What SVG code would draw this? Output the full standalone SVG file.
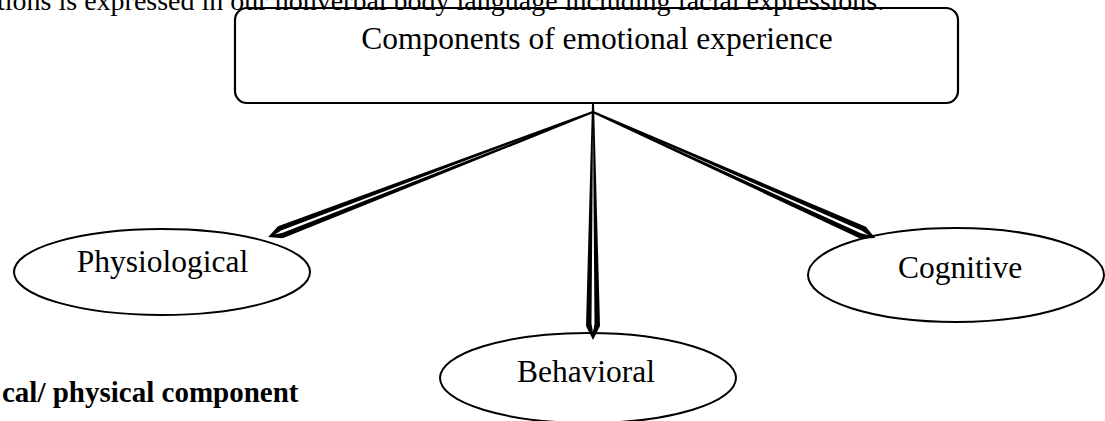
<svg xmlns="http://www.w3.org/2000/svg" width="1105" height="421" viewBox="0 0 1105 421">
<style>
.body{font-family:"Liberation Serif","Times New Roman",serif;fill:#000}
.lbl{font-family:"Liberation Serif","Times New Roman",serif;font-size:31.5px;fill:#000;text-anchor:middle}
.shape{fill:#fff;stroke:#000;stroke-width:2}
.box{fill:none;stroke:#000;stroke-width:2.2}
.ao{fill:#000}
.ai{fill:#fff}
</style>
<rect width="1105" height="421" fill="#fff"/>
<text class="body" x="-3" y="10" font-size="28">tions is expressed in our nonverbal body language including facial expressions.</text>
<text class="body" x="2" y="402" font-size="29" font-weight="bold">cal/ physical component</text>
<g id="node-components">
<rect class="box" x="235" y="8" width="723" height="95" rx="12"/>
<text class="lbl" x="597" y="49" font-size="32">Components of emotional experience</text>
</g>
<g id="node-physiological">
<ellipse class="shape" cx="162" cy="272" rx="148" ry="43"/>
<text class="lbl" x="162.5" y="272">Physiological</text>
</g>
<g id="node-cognitive">
<ellipse class="shape" cx="956" cy="275" rx="148" ry="47"/>
<text class="lbl" x="960" y="278">Cognitive</text>
</g>
<g id="node-behavioral">
<ellipse class="shape" cx="588" cy="378" rx="148" ry="45"/>
<text class="lbl" x="586" y="382">Behavioral</text>
</g>
<g id="connectors">
<g transform="translate(593,112) rotate(158.96)">
<polygon class="ao" points="0,-1 335,-6.5 348,0 335,6.5 0,1"/>
<polygon class="ai" points="70,0 333,-1.3 341,0 333,1.3"/>
</g>
<g transform="translate(593,103) rotate(90)">
<polygon class="ao" points="0,-1 223,-7 237,0 223,7 0,1"/>
<polygon class="ai" points="25,0 221,-1.5 229,0 221,1.5"/>
</g>
<g transform="translate(593,112) rotate(24.08)">
<polygon class="ao" points="0,-1 296,-6.5 309,0 296,6.5 0,1"/>
<polygon class="ai" points="70,0 294,-1.3 302,0 294,1.3"/>
</g>
</g>
</svg>
